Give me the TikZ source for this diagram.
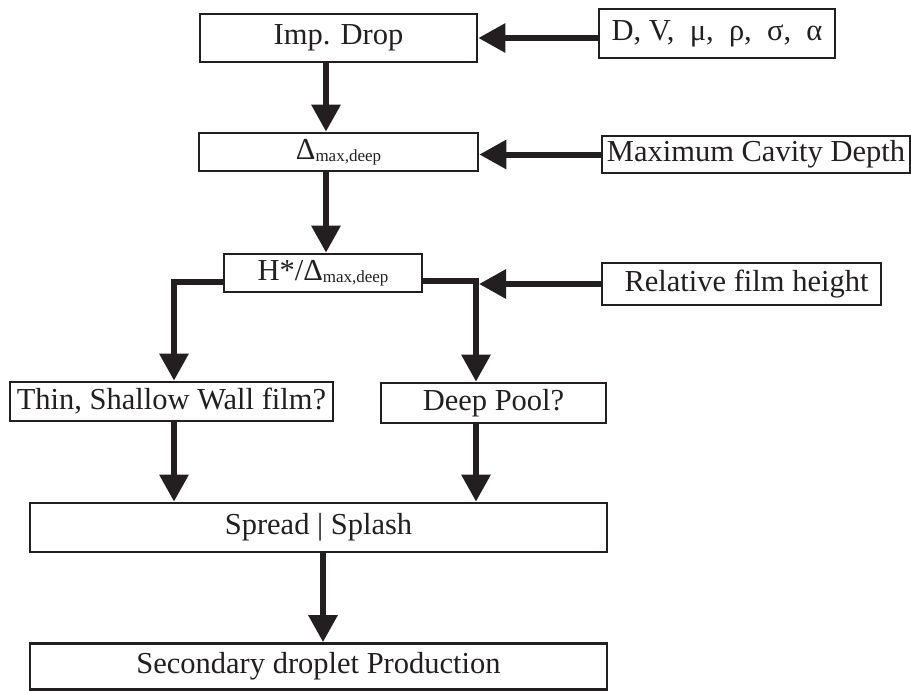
\documentclass[tikz,border=0pt]{standalone}
\usepackage{fontspec}
\setmainfont{Liberation Serif}
\usetikzlibrary{arrows.meta}
\definecolor{ink}{HTML}{231F20}
\newcommand{\lowtext}[1]{\raisebox{-2pt}{\fontsize{17}{20}\selectfont #1}}
\tikzset{
  box/.style={draw=ink, line width=2.7pt, inner sep=0pt, text=ink,
    font=\fontsize{30.5}{36}\selectfont},
  flow/.style={draw=ink, line width=6pt, -{Triangle[length=27pt,width=28pt]}},
}
\begin{document}
\begin{tikzpicture}[x=1pt, y=-1pt]
    \useasboundingbox (0,0) rectangle (911,691);

    % boxes
    \node[box, minimum width=277pt, minimum height=48pt] (imp) at (338.5,38) {Imp. Drop};
    \node[box, minimum width=236pt, minimum height=49pt] (dv) at (717,33.5) {D, V,\ \ μ,\ \ ρ,\ \ σ,\ \ α};
    \node[box, minimum width=279pt, minimum height=38pt] (delta) at (338.5,152) {Δ\lowtext{max,deep}};
    \node[box, minimum width=308pt, minimum height=37pt] (maxd) at (756,154.5) {Maximum Cavity Depth};
    \node[box, minimum width=198pt, minimum height=38pt] (hstar) at (323,273) {H*/Δ\lowtext{max,deep}};
    \node[box, minimum width=279pt, minimum height=42pt] (rel) at (741.5,284) {\hspace*{10pt}Relative film height};
    \node[box, minimum width=323pt, minimum height=39pt] (thin) at (171.5,401.5) {Thin, Shallow Wall film?};
    \node[box, minimum width=225pt, minimum height=40pt] (deep) at (493.5,403) {Deep Pool?};
    \node[box, minimum width=577pt, minimum height=49pt] (spread) at (318.5,527.5) {Spread | Splash};
    \node[box, minimum width=577pt, minimum height=46pt] (second) at (318.5,666.5) {Secondary droplet Production};

    % arrow lanes
    \coordinate (trunk) at (326,0);
    \coordinate (lft) at (174,282);
    \coordinate (rgt) at (476,281);
    \coordinate (low) at (323,0);

    % inputs
    \draw[flow] (dv.west |- imp.east) -- (imp.east);
    \draw[flow] (maxd.west) -- (delta.east |- maxd.west);
    \draw[flow] (rel.west) -- ([xshift=3pt]rgt |- rel.west);

    % main flow
    \draw[flow] (imp.south -| trunk) -- (delta.north -| trunk);
    \draw[flow] (delta.south -| trunk) -- (hstar.north -| trunk);
    \draw[flow] (hstar.west |- lft) -| (thin.north -| lft);
    \draw[flow] (hstar.east |- rgt) -| (deep.north -| rgt);
    \draw[flow] (thin.south -| lft) -- (spread.north -| lft);
    \draw[flow] (deep.south -| rgt) -- (spread.north -| rgt);
    \draw[flow] (spread.south -| low) -- (second.north -| low);
\end{tikzpicture}
\end{document}
